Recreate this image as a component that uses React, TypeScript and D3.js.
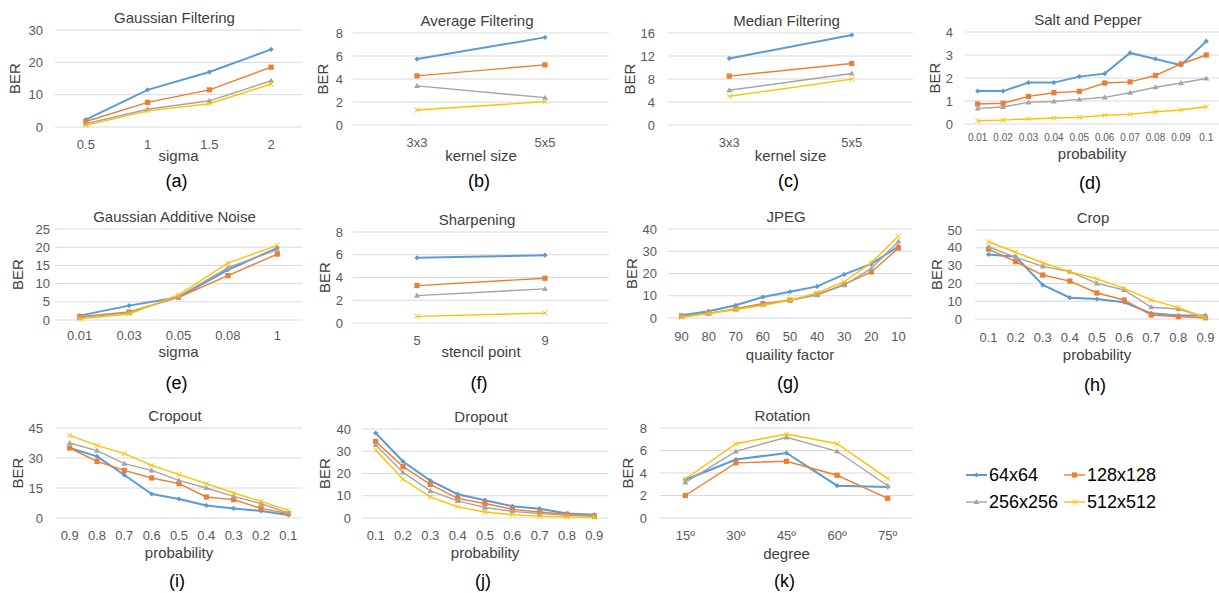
import React from "react";
import * as d3 from "d3";

const SERIES = ["64x64", "128x128", "256x256", "512x512"];
const COLORS = ["#5B9BD5", "#ED7D31", "#A5A5A5", "#FFC000"];

const gfX = ["0.5", "1", "1.5", "2"];
const gfY = [[2.3, 11.5, 17, 24], [1.7, 7.6, 11.5, 18.5], [1.0, 5.5, 8.1, 14.3], [0.5, 5.0, 7.2, 13.3]];

const afX = ["3x3", "5x5"];
const afY = [[5.73, 7.62], [4.27, 5.23], [3.4, 2.38], [1.3, 2.03]];

const mfX = ["3x3", "5x5"];
const mfY = [[11.58, 15.65], [8.5, 10.7], [6.05, 8.96], [5.0, 7.97]];

const spX = ["0.01", "0.02", "0.03", "0.04", "0.05", "0.06", "0.07", "0.08", "0.09", "0.1"];
const spY = [
  [1.43, 1.43, 1.8, 1.8, 2.06, 2.19, 3.09, 2.83, 2.56, 3.6],
  [0.87, 0.9, 1.2, 1.36, 1.42, 1.78, 1.83, 2.11, 2.61, 3.0],
  [0.68, 0.74, 0.94, 0.98, 1.07, 1.16, 1.36, 1.6, 1.78, 1.98],
  [0.14, 0.17, 0.22, 0.26, 0.29, 0.38, 0.42, 0.53, 0.61, 0.75],
];

const ganX = ["0.01", "0.03", "0.05", "0.08", "1"];
const ganY = [[1.2, 3.95, 6.25, 13.8, 19.8], [0.9, 2.2, 6.25, 12.2, 18.1], [0.65, 2.0, 6.4, 14.4, 19.3], [0.3, 1.65, 6.9, 15.6, 20.5]];

const shX = ["5", "9"];
const shY = [[5.73, 5.96], [3.29, 3.93], [2.41, 3.0], [0.58, 0.87]];

const jpX = ["90", "80", "70", "60", "50", "40", "30", "20", "10"];
const jpY = [
  [1.2, 3.0, 5.7, 9.4, 11.8, 14.2, 19.6, 24.3, 32.2],
  [0.9, 2.1, 4.2, 6.5, 8.0, 10.6, 15.1, 20.7, 31.4],
  [0.9, 2.1, 3.9, 6.0, 8.0, 10.3, 14.8, 22.3, 34.4],
  [0.3, 2.0, 3.8, 5.7, 8.0, 11.3, 16.3, 24.9, 36.7],
];

const crX = ["0.1", "0.2", "0.3", "0.4", "0.5", "0.6", "0.7", "0.8", "0.9"];
const crY = [
  [36.3, 35.0, 19.1, 12.0, 11.2, 9.4, 3.2, 1.9, 1.9],
  [39.3, 32.2, 24.7, 21.3, 14.6, 10.7, 2.2, 1.3, 0.7],
  [40.6, 34.6, 29.6, 26.6, 20.0, 16.3, 6.6, 5.6, 1.1],
  [43.4, 37.5, 31.6, 26.6, 22.5, 17.2, 10.7, 6.4, 0.7],
];

const coX = ["0.9", "0.8", "0.7", "0.6", "0.5", "0.4", "0.3", "0.2", "0.1"];
const coY = [
  [35, 30.8, 21.5, 12.0, 9.5, 6.3, 4.8, 3.5, 1.5],
  [35, 28.3, 23.8, 20, 17.2, 10.5, 9.2, 4.8, 2.2],
  [37.5, 33.7, 27.2, 23.8, 18.8, 15, 10.8, 7.2, 2.5],
  [41.3, 36.3, 32.2, 26.3, 21.7, 17.2, 12.5, 8.3, 3.8],
];

const drX = ["0.1", "0.2", "0.3", "0.4", "0.5", "0.6", "0.7", "0.8", "0.9"];
const drY = [
  [38.2, 25.4, 16.8, 10.7, 8.0, 5.3, 4.2, 2.0, 1.5],
  [34.4, 23.1, 15.1, 8.8, 6.5, 3.9, 2.7, 1.7, 0.9],
  [32.9, 20.5, 12.2, 7.7, 4.7, 3.0, 2.0, 1.2, 0.8],
  [30.6, 17.4, 9.5, 5.0, 2.7, 1.5, 0.8, 0.5, 0.3],
];

const roX = ["15º", "30º", "45º", "60º", "75º"];
const roY = [[3.4, 5.2, 5.78, 2.87, 2.76], [2.0, 4.9, 5.04, 3.8, 1.75], [3.17, 5.93, 7.17, 5.93, 2.87], [3.47, 6.6, 7.47, 6.6, 3.5]];

const panels = [
  { cap: "(a)", title: "Gaussian Filtering", xl: "sigma", cats: gfX, data: gfY, ticks: [0, 10, 20, 30], L: 55, R: 302, T: 30, B: 127, tx: 43, bx: 15, xty: 144, xly: 156, cy: 181, tf: 13 },
  { cap: "(b)", title: "Average Filtering", xl: "kernel size", cats: afX, data: afY, ticks: [0, 2, 4, 6, 8], L: 353, R: 609, T: 33, B: 125, tx: 343, bx: 323, xty: 142, xly: 156, cy: 181, tf: 13 },
  { cap: "(c)", title: "Median Filtering", xl: "kernel size", cats: mfX, data: mfY, ticks: [0, 4, 8, 12, 16], L: 668, R: 913, T: 33, B: 125, tx: 655, bx: 630, xty: 142, xly: 156, cy: 181, tf: 13 },
  { cap: "(d)", title: "Salt and Pepper", xl: "probability", cats: spX, data: spY, ticks: [0, 1, 2, 3, 4], L: 965, R: 1219, T: 32, B: 124, tx: 953, bx: 935, xty: 137, xly: 154, cy: 183, tf: 10 },
  { cap: "(e)", title: "Gaussian Additive Noise", xl: "sigma", cats: ganX, data: ganY, ticks: [0, 5, 10, 15, 20, 25], L: 55, R: 302, T: 229, B: 320, tx: 50, bx: 18, xty: 335, xly: 352, cy: 383, tf: 13 },
  { cap: "(f)", title: "Sharpening", xl: "stencil point", cats: shX, data: shY, ticks: [0, 2, 4, 6, 8], L: 353, R: 609, T: 232, B: 323, tx: 343, bx: 325, xty: 340, xly: 352, cy: 383, tf: 13 },
  { cap: "(g)", title: "JPEG", xl: "quaility factor", cats: jpX, data: jpY, ticks: [0, 10, 20, 30, 40], L: 668, R: 912, T: 229, B: 318, tx: 657, bx: 632, xty: 336, xly: 355, cy: 383, tf: 13 },
  { cap: "(h)", title: "Crop", xl: "probability", cats: crX, data: crY, ticks: [0, 10, 20, 30, 40, 50], L: 975, R: 1219, T: 230, B: 319, tx: 962, bx: 937, xty: 337, xly: 355, cy: 385, tf: 13 },
  { cap: "(i)", title: "Cropout", xl: "probability", cats: coX, data: coY, ticks: [0, 15, 30, 45], L: 56, R: 302, T: 428, B: 518, tx: 43, bx: 18, xty: 535, xly: 553, cy: 581, tf: 13 },
  { cap: "(j)", title: "Dropout", xl: "probability", cats: drX, data: drY, ticks: [0, 10, 20, 30, 40], L: 362, R: 608, T: 429, B: 518, tx: 351, bx: 325, xty: 535, xly: 553, cy: 581, tf: 13 },
  { cap: "(k)", title: "Rotation", xl: "degree", cats: roX, data: roY, ticks: [0, 2, 4, 6, 8], L: 660, R: 913, T: 428, B: 518, tx: 647, bx: 628, xty: 535, xly: 554, cy: 581, tf: 13 },
];

const FONT = "'Liberation Sans', Arial, sans-serif";

function Marker({ s, x, y }: { s: number; x: number; y: number }) {
  const c = COLORS[s];
  if (s === 0) {
    const r = 2.6;
    return <path d={`M${x},${y - r}L${x + r},${y}L${x},${y + r}L${x - r},${y}Z`} fill={c} />;
  }
  if (s === 1) {
    return <rect x={x - 2.6} y={y - 2.6} width={5.2} height={5.2} fill={c} />;
  }
  if (s === 2) {
    const r = 3;
    return <path d={`M${x},${y - r}L${x + r},${y + r * 0.7}L${x - r},${y + r * 0.7}Z`} fill={c} />;
  }
  const r = 2.5;
  return <path d={`M${x - r},${y - r}L${x + r},${y + r}M${x - r},${y + r}L${x + r},${y - r}`} stroke={c} strokeWidth={1} />;
}

function Panel({ p }: { p: any }) {
  const x = d3.scalePoint<string>().domain(p.cats).range([p.L, p.R]).padding(0.5);
  const y = d3.scaleLinear().domain([0, p.ticks[p.ticks.length - 1]]).range([p.B, p.T]);
  const line = d3.line<number>().x((_, i) => x(p.cats[i]) as number).y((d) => y(d));
  const cx = (p.L + p.R) / 2;
  return (
    <g>
      {p.ticks.map((t: number) => (
        <g key={t}>
          <line x1={p.L} x2={p.R} y1={y(t)} y2={y(t)} stroke="#D9D9D9" strokeWidth={1} />
          <text x={p.tx} y={y(t)} dy="0.35em" textAnchor="end" fontSize={13} fill="#595959">{t}</text>
        </g>
      ))}
      {p.cats.map((c: string) => (
        <text key={c} x={x(c)} y={p.xty} dy="0.35em" textAnchor="middle" fontSize={p.tf} fill="#595959">{c}</text>
      ))}
      <text x={cx - 5} y={(p.T + p.B) / 2 - 12} dy="0.35em" textAnchor="middle" fontSize={15} fill="#404040" style={{ display: "none" }} />
      <text x={cx - 4} y={p.T - 12} dy="0.35em" textAnchor="middle" fontSize={15} fill="#404040">{p.title}</text>
      <text transform={`translate(${p.bx},${(p.T + p.B) / 2}) rotate(-90)`} dy="0.35em" textAnchor="middle" fontSize={15} fill="#404040">BER</text>
      <text x={cx} y={p.xly} dy="0.35em" textAnchor="middle" fontSize={15} fill="#404040">{p.xl}</text>
      <text x={cx - 2} y={p.cy} dy="0.35em" textAnchor="middle" fontSize={18} fill="#000">{p.cap}</text>
      {p.data.map((vals: number[], s: number) => (
        <g key={s}>
          <path d={line(vals) as string} fill="none" stroke={COLORS[s]} strokeWidth={s === 0 ? 2 : 1.4} />
          {vals.map((v, i) => <Marker key={i} s={s} x={x(p.cats[i]) as number} y={y(v)} />)}
        </g>
      ))}
    </g>
  );
}

function Legend() {
  const items = [
    { s: 0, x: 966, y: 475 },
    { s: 1, x: 1064, y: 475 },
    { s: 2, x: 966, y: 502 },
    { s: 3, x: 1064, y: 502 },
  ];
  return (
    <g>
      {items.map((it) => (
        <g key={it.s}>
          <line x1={it.x} x2={it.x + 21} y1={it.y} y2={it.y} stroke={COLORS[it.s]} strokeWidth={it.s === 0 ? 2 : 1.4} />
          <Marker s={it.s} x={it.x + 10.5} y={it.y} />
          <text x={it.x + 23} y={it.y} dy="0.35em" fontSize={18} fill="#000">{SERIES[it.s]}</text>
        </g>
      ))}
    </g>
  );
}

export default function App() {
  return (
    <svg width={1219} height={593} style={{ position: "absolute", left: 0, top: 0, background: "#fff" }} fontFamily={FONT}>
      <rect width={1219} height={593} fill="#fff" />
      {panels.map((p) => <Panel key={p.cap} p={p} />)}
      <Legend />
    </svg>
  );
}
